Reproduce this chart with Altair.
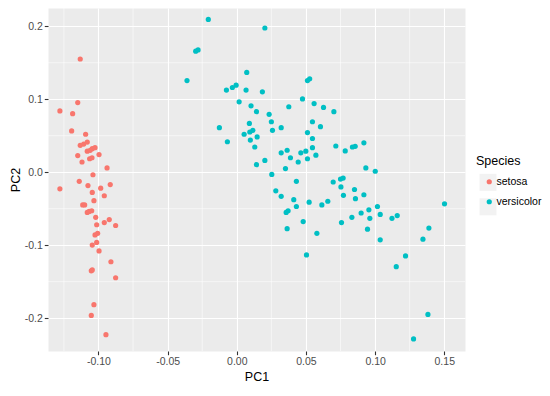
import altair as alt
import pandas as pd

# ---- data ----
setosa_pc1 = [-0.1132, -0.1150, -0.1279, -0.1187, -0.1194, -0.1093, -0.1132, -0.1107, -0.1081, -0.1045,
              -0.1025, -0.1081, -0.0996, -0.1150, -0.1064, -0.1047, -0.1119, -0.0938, -0.1040, -0.1139,
              -0.1279, -0.1076, -0.0915, -0.0984, -0.1045, -0.0958, -0.1033, -0.1114, -0.1100, -0.1081,
              -0.1067, -0.1049, -0.1020, -0.0922, -0.0958, -0.1013, -0.0876, -0.1006, -0.1025, -0.1013,
              -0.1045, -0.0996, -0.0910, -0.1052, -0.1045, -0.0876, -0.1033, -0.1052, -0.0946, -0.1060]
setosa_pc2 = [0.1551, 0.0954, 0.0839, 0.0802, 0.0565, 0.0520, 0.0368, 0.0386, 0.0413, 0.0323,
              0.0336, 0.0288, 0.0242, 0.0228, 0.0184, 0.0198, 0.0140, 0.0059, -0.0035, -0.0125,
              -0.0228, -0.0183, -0.0169, -0.0219, -0.0277, -0.0323, -0.0390, -0.0448, -0.0448, -0.0551,
              -0.0538, -0.0528, -0.0618, -0.0649, -0.0690, -0.0720, -0.0730, -0.0837, -0.0860, -0.0962,
              -0.0999, -0.1079, -0.1227, -0.1352, -0.1339, -0.1446, -0.1815, -0.1962, -0.2226, 0.0300]

versicolor_pc1 = [-0.0206, 0.0203, -0.0297, -0.0280, -0.0360, 0.0072, 0.0511, 0.0527, -0.0075, -0.0032,
                  -0.0005, 0.0067, 0.0185, 0.0475, 0.0017, 0.0103, 0.0376, 0.0142, 0.0234, -0.0126,
                  0.0091, 0.0250, 0.0321, 0.0258, 0.0053, 0.0094, 0.0116, 0.0147, 0.0098, 0.0511,
                  -0.0068, 0.0130, 0.0321, 0.0364, 0.0388, 0.0463, 0.0499, 0.0444, 0.0511, 0.0203,
                  0.0142, 0.0352, 0.0253, 0.0559, 0.0627, 0.0702, 0.0547, 0.0605, 0.0547, 0.0547,
                  0.0572, 0.0716, 0.0784, 0.0836, 0.0856, 0.0919, 0.0933, 0.1001, 0.0431, 0.0282,
                  0.0321, 0.0412, 0.0431, 0.0357, 0.0371, 0.0480, 0.0364, 0.0504, 0.0697, 0.0750,
                  0.0769, 0.0753, 0.0851, 0.0771, 0.0858, 0.0919, 0.0523, 0.0615, 0.0658, 0.1502,
                  0.1017, 0.0955, 0.0899, 0.0832, 0.0962, 0.1037, 0.1122, 0.1160, 0.0757, 0.0579,
                  0.0945, 0.1037, 0.1389, 0.1346, 0.1220, 0.1153, 0.1382, 0.1278]
versicolor_pc2 = [0.2093, 0.1976, 0.1659, 0.1676, 0.1255, 0.1367, 0.1255, 0.1280, 0.1125, 0.1161,
                  0.1192, 0.1125, 0.1102, 0.1004, 0.0964, 0.0910, 0.0897, 0.0829, 0.0793, 0.0610,
                  0.0668, 0.0691, 0.0610, 0.0574, 0.0520, 0.0551, 0.0574, 0.0484, 0.0440, 0.0543,
                  0.0417, 0.0345, 0.0265, 0.0301, 0.0198, 0.0265, 0.0288, 0.0140, 0.0184, 0.0161,
                  0.0103, 0.0050, -0.0031, 0.0941, 0.0887, 0.0829, 0.0691, 0.0624, 0.0462, 0.0336,
                  0.0234, 0.0359, 0.0292, 0.0345, 0.0355, 0.0403, 0.0059, 0.0013, -0.0125, -0.0255,
                  -0.0331, -0.0376, -0.0470, -0.0551, -0.0528, -0.0676, -0.0774, -0.1133, -0.0134, -0.0094,
                  -0.0081, -0.0202, -0.0237, -0.0317, -0.0363, -0.0309, -0.0411, -0.0448, -0.0398, -0.0434,
                  -0.0470, -0.0515, -0.0559, -0.0618, -0.0632, -0.0578, -0.0632, -0.0595, -0.0690, -0.0837,
                  -0.0780, -0.0927, -0.0766, -0.0918, -0.1147, -0.1294, -0.1949, -0.2285]

species = ["setosa", "versicolor"]
species_colors = ["#F8766D", "#00BFC4"]
x_ticks = [-0.10, -0.05, 0.00, 0.05, 0.10, 0.15]
y_ticks = [-0.2, -0.1, 0.0, 0.1, 0.2]
x_minor = [-0.125, -0.075, -0.025, 0.025, 0.075, 0.125]
y_minor = [-0.15, -0.05, 0.05, 0.15]

points = pd.DataFrame({
    "PC1": setosa_pc1 + versicolor_pc1,
    "PC2": setosa_pc2 + versicolor_pc2,
    "Species": ["setosa"] * len(setosa_pc1) + ["versicolor"] * len(versicolor_pc1),
})

MINUS = "\u2212"
xscale = alt.Scale(domain=[-0.1365, 0.165], nice=False, zero=False)
yscale = alt.Scale(domain=[-0.245, 0.225], nice=False, zero=False)
xaxis = alt.Axis(values=x_ticks, labelExpr=f"replace(format(datum.value, '.2f'), '{MINUS}', '-')")
yaxis = alt.Axis(values=y_ticks, labelExpr=f"replace(format(datum.value, '.1f'), '{MINUS}', '-')")

x_minor_rules = alt.Chart(pd.DataFrame({"v": x_minor})).mark_rule(
    color="white", strokeWidth=0.55
).encode(x=alt.X("v:Q", scale=xscale, title="PC1", axis=xaxis))

y_minor_rules = alt.Chart(pd.DataFrame({"v": y_minor})).mark_rule(
    color="white", strokeWidth=0.55
).encode(y=alt.Y("v:Q", scale=yscale, title="PC2", axis=yaxis))

# invisible layer (size 0) whose legend draws the grey legend-key boxes (ggplot style)
key_boxes = alt.Chart(points).transform_calculate(key="'k_' + datum.Species").mark_point(
    size=0, filled=True, color="#F2F2F2"
).encode(
    x=alt.X("PC1:Q", scale=xscale, title="PC1", axis=xaxis),
    y=alt.Y("PC2:Q", scale=yscale, title="PC2", axis=yaxis),
    shape=alt.Shape("key:N", scale=alt.Scale(domain=["k_setosa", "k_versicolor"],
                                             range=["square", "square"]),
                    legend=alt.Legend(title=" ", orient="none", legendX=431, legendY=147,
                                      symbolType="square", symbolSize=289, symbolOffset=0,
                                      symbolFillColor="#F2F2F2", symbolStrokeColor="white",
                                      symbolStrokeWidth=1, symbolOpacity=1,
                                      labelExpr="''", titleColor="transparent",
                                      rowPadding=2.5, titlePadding=5.8, zindex=0)),
)

pts = alt.Chart(points).mark_circle(size=27, opacity=1).encode(
    x=alt.X("PC1:Q", scale=xscale, title="PC1", axis=xaxis),
    y=alt.Y("PC2:Q", scale=yscale, title="PC2", axis=yaxis),
    color=alt.Color("Species:N",
                    scale=alt.Scale(domain=species, range=species_colors),
                    legend=alt.Legend(title="Species", orient="none", legendX=428, legendY=147,
                                      symbolType="circle", symbolSize=27, symbolOffset=8,
                                      labelOffset=2, rowPadding=9, titlePadding=9, zindex=1)),
)

chart = alt.layer(x_minor_rules, y_minor_rules, key_boxes, pts).properties(
    width=417, height=343,
    padding={"left": 40, "top": 0, "right": 77, "bottom": 33},
    autosize=alt.AutoSizeParams(type="none"),
).resolve_legend(
    color="independent", shape="independent",
).configure(
    font="Liberation Sans",
).configure_view(
    fill="#EBEBEB", stroke="transparent",
).configure_axis(
    domain=False,
    grid=True, gridColor="white", gridWidth=1.1, gridOpacity=1,
    tickColor="#333333", tickSize=3.7, tickWidth=1.1,
    labelFont="Liberation Sans", labelFontSize=10.5, labelColor="#4D4D4D", labelPadding=2,
    titleFont="Liberation Sans", titleFontSize=12.5, titleFontWeight="normal", titleColor="#000000",
).configure_axisX(
    titlePadding=3,
).configure_axisY(
    titlePadding=2,
).configure_legend(
    titleFont="Liberation Sans", titleFontSize=12.5, titleFontWeight="normal",
    labelFont="Liberation Sans", labelFontSize=10.5, labelColor="#000000",
)

chart.save("out.html", embed_options={"renderer": "svg", "actions": False})
